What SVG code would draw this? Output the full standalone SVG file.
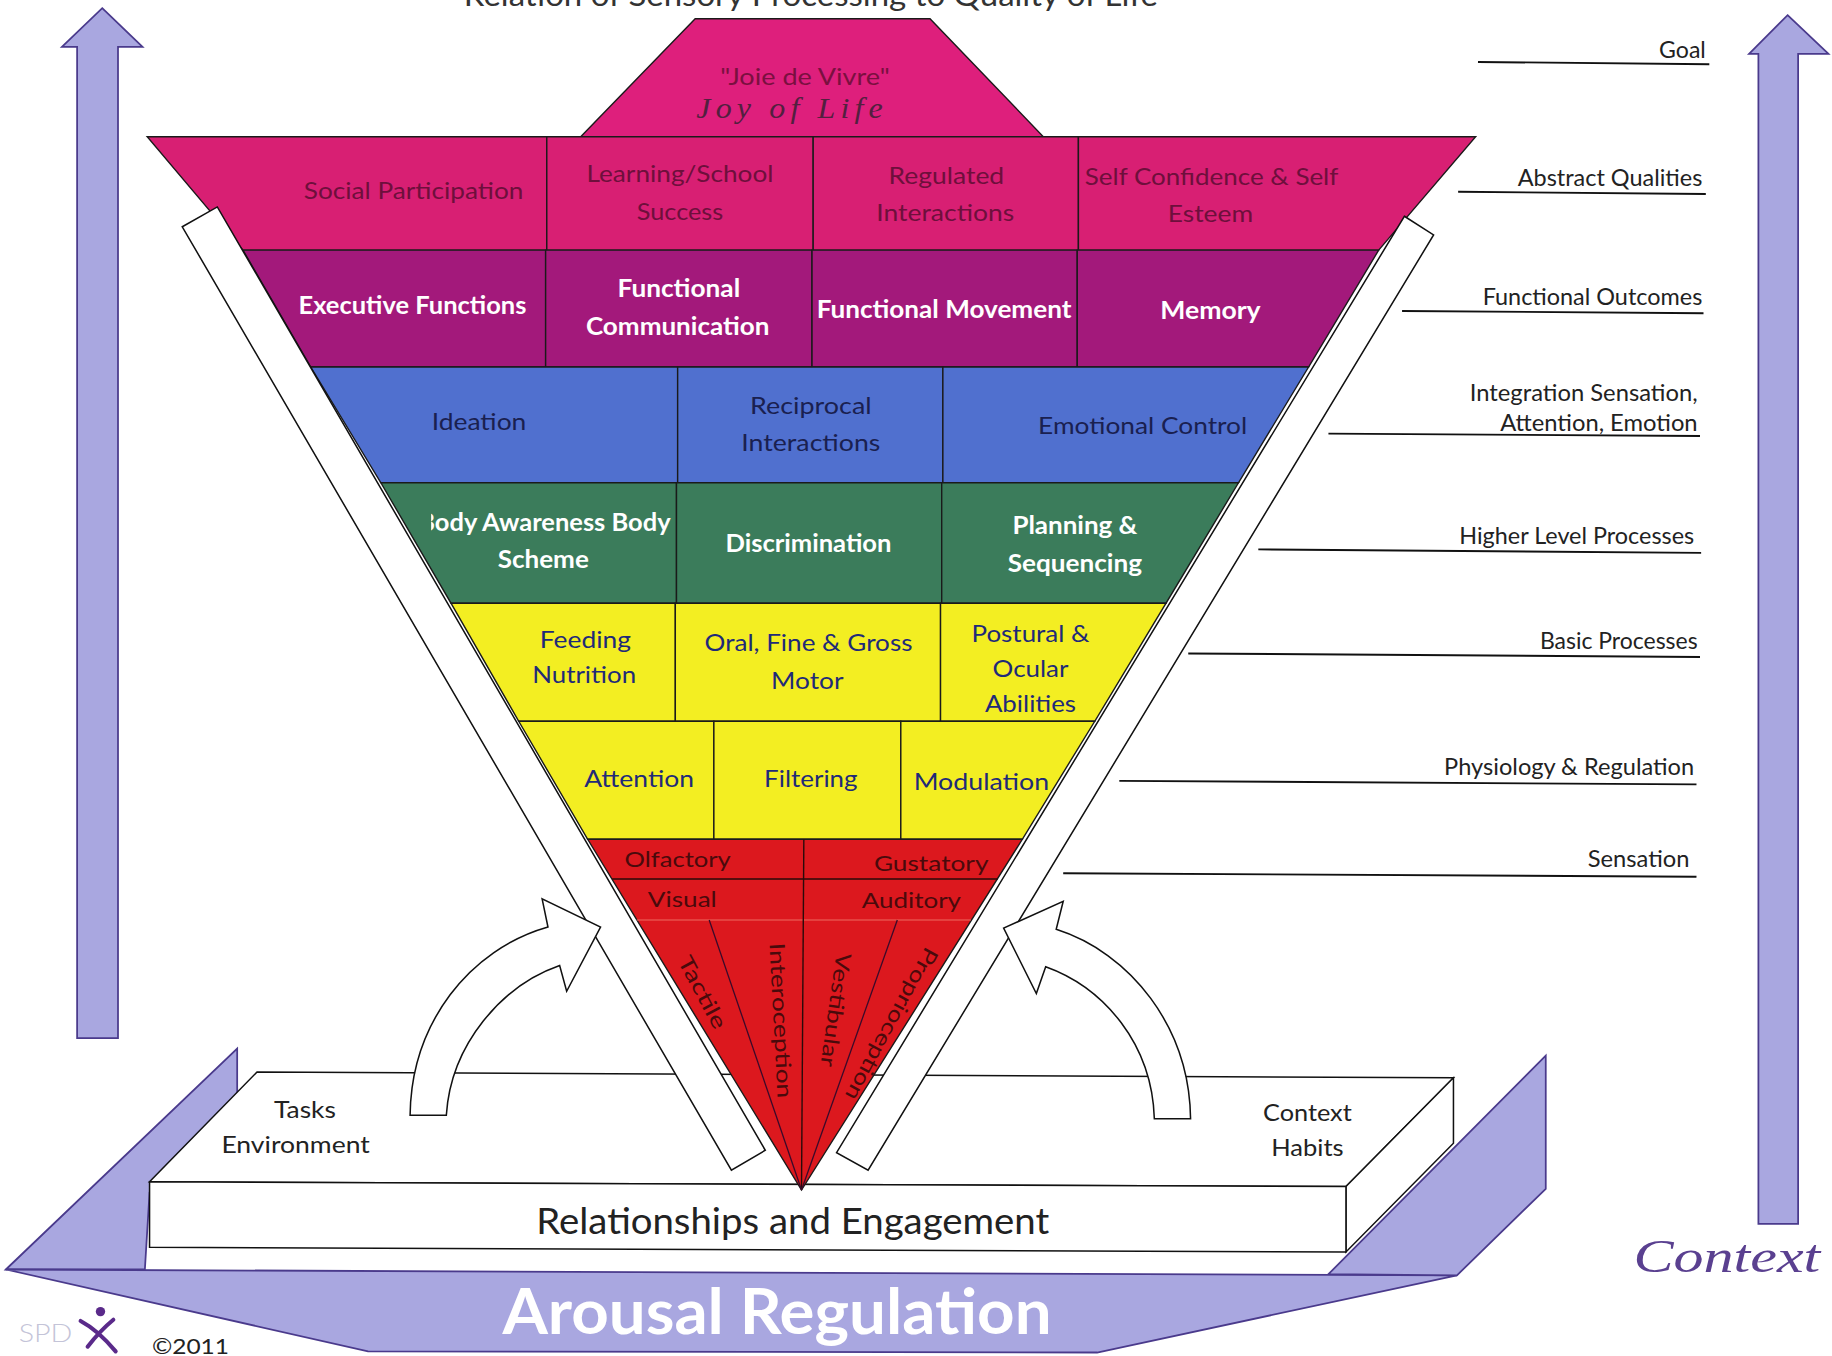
<svg xmlns="http://www.w3.org/2000/svg" width="1832" height="1356" viewBox="0 0 1832 1356">
<defs>
<style>
.f{font-family:Lato,"Open Sans","Liberation Sans",sans-serif}
.m{text-anchor:middle}
.e{text-anchor:end}
.r1{font-size:20px;fill:#6e0f3c}
.bw{font-size:21px;font-weight:bold;fill:#ffffff}
.dk{font-size:20px;fill:#1a2050}
.ny{font-size:20px;fill:#1f2a78}
.rd{font-size:18px;fill:#4a0a0c}
.lb{font-size:19px;fill:#222222}
.pk{fill:#d81f73}
.mg{fill:#a3197b}
.bl{fill:#5070cf}
.gr{fill:#3b7c5b}
.ye{fill:#f3ee22}
.re{fill:#dc181e}
.cell{stroke:#1a1a1a;stroke-width:1.2}
.ln{stroke:#111111;stroke-width:1.6;fill:none}
.lav{fill:#a9a7e0;stroke:#4a3a8c;stroke-width:1.5}
.wh{fill:#ffffff;stroke:#111111;stroke-width:1.3}
</style>
<clipPath id="clipBody"><rect x="369" y="413" width="212" height="103"/></clipPath>
</defs>
<rect width="1832" height="1356" fill="#ffffff"/>
<g transform="scale(1.16837 1.16897)">

<g id="title"><text class="f m" x="694" y="5" font-size="26" fill="#333333" textLength="594" lengthAdjust="spacingAndGlyphs">Relation of Sensory Processing to Quality of Life</text></g>

<g id="arrow-left-development"><polygon class="lav" points="87.5,7 122,40 101,40 101,888 66,888 66,40 53,40"/></g>
<g id="arrow-right-context"><polygon class="lav" points="1530,13 1565,46 1539,46 1539,1047 1505,1047 1505,46 1497,46"/>
<text x="1398" y="1088" font-family="'Liberation Serif',serif" font-style="italic" font-size="40" fill="#5a4090" textLength="160" lengthAdjust="spacingAndGlyphs">Context</text></g>

<g id="arousal-regulation">
<polygon class="lav" points="5,1086 203,897 203,945 128,1020 124,1086"/>
<polygon class="lav" points="5,1086 1247,1091 939,1157 315,1156"/>
<text class="f" x="430" y="1141" font-size="54" font-weight="bold" fill="#ffffff" textLength="470" lengthAdjust="spacingAndGlyphs">Arousal Regulation</text>
</g>

<g id="platform">
<polygon class="wh" points="128,1011 220,917 1244,922 1152,1015"/>
<polygon class="wh" points="1152,1015 1244,922 1244,978 1152,1071"/>
<polygon class="wh" points="128,1011 1152,1015 1152,1071 128,1067"/>
<text class="f m lb" x="261" y="956" font-size="21" textLength="53" lengthAdjust="spacingAndGlyphs">Tasks</text>
<text class="f m lb" x="253" y="986" font-size="21" textLength="127" lengthAdjust="spacingAndGlyphs">Environment</text>
<text class="f m lb" x="1119" y="959" font-size="21" textLength="76" lengthAdjust="spacingAndGlyphs">Context</text>
<text class="f m lb" x="1119" y="989" font-size="21" textLength="62" lengthAdjust="spacingAndGlyphs">Habits</text>
<text class="f" x="459" y="1056" font-size="31" fill="#222222" textLength="439" lengthAdjust="spacingAndGlyphs">Relationships and Engagement</text>
</g>
<g id="arousal-right-flap"><polygon class="lav" points="1137,1090 1323,903 1323,1017 1247,1091"/></g>

<g id="joie-de-vivre">
<polygon class="cell" fill="#de1f7c" points="497,117 595,16 796,16 893,117"/>
<text class="f m" x="689" y="73" font-size="20" fill="#7a1040" textLength="145" lengthAdjust="spacingAndGlyphs">"Joie de Vivre"</text>
<text x="678" y="101" text-anchor="middle" font-family="'Liberation Serif',serif" font-style="italic" font-size="25" fill="#52203f" letter-spacing="4" textLength="164" lengthAdjust="spacingAndGlyphs">Joy of Life</text>
</g>

<g id="social-participation"><polygon class="pk cell" points="126,117 468,117 468,214 208,214"/>
<text class="f m r1" x="354" y="170" textLength="188" lengthAdjust="spacingAndGlyphs">Social Participation</text></g>
<g id="learning-school"><polygon class="pk cell" points="468,117 696,117 696,214 468,214"/>
<text class="f m r1" x="582" y="156" textLength="160" lengthAdjust="spacingAndGlyphs">Learning/School</text>
<text class="f m r1" x="582" y="188" textLength="74" lengthAdjust="spacingAndGlyphs">Success</text></g>
<g id="regulated-interactions"><polygon class="pk cell" points="696,117 923,117 923,214 696,214"/>
<text class="f m r1" x="810" y="157" textLength="99" lengthAdjust="spacingAndGlyphs">Regulated</text>
<text class="f m r1" x="809" y="189" textLength="118" lengthAdjust="spacingAndGlyphs">Interactions</text></g>
<g id="self-confidence"><polygon class="pk cell" points="923,117 1263,117 1180,214 923,214"/>
<text class="f m r1" x="1037" y="158" textLength="217" lengthAdjust="spacingAndGlyphs">Self Confidence &amp; Self</text>
<text class="f m r1" x="1036" y="190" textLength="73" lengthAdjust="spacingAndGlyphs">Esteem</text></g>

<g id="executive-functions"><polygon class="mg cell" points="208,214 467,214 467,314 266,314"/>
<text class="f m bw" x="353" y="269" textLength="195" lengthAdjust="spacingAndGlyphs">Executive Functions</text></g>
<g id="functional-communication"><polygon class="mg cell" points="467,214 695,214 695,314 467,314"/>
<text class="f m bw" x="581" y="254" textLength="105" lengthAdjust="spacingAndGlyphs">Functional</text>
<text class="f m bw" x="580" y="287" textLength="157" lengthAdjust="spacingAndGlyphs">Communication</text></g>
<g id="functional-movement"><polygon class="mg cell" points="695,214 922,214 922,314 695,314"/>
<text class="f m bw" x="808" y="272" textLength="218" lengthAdjust="spacingAndGlyphs">Functional Movement</text></g>
<g id="memory"><polygon class="mg cell" points="922,214 1180,214 1120,314 922,314"/>
<text class="f m bw" x="1036" y="273" textLength="86" lengthAdjust="spacingAndGlyphs">Memory</text></g>

<g id="ideation"><polygon class="bl cell" points="266,314 580,314 580,413 326,413"/>
<text class="f m dk" x="410" y="368" textLength="81" lengthAdjust="spacingAndGlyphs">Ideation</text></g>
<g id="reciprocal-interactions"><polygon class="bl cell" points="580,314 807,314 807,413 580,413"/>
<text class="f m dk" x="694" y="354" textLength="104" lengthAdjust="spacingAndGlyphs">Reciprocal</text>
<text class="f m dk" x="694" y="386" textLength="119" lengthAdjust="spacingAndGlyphs">Interactions</text></g>
<g id="emotional-control"><polygon class="bl cell" points="807,314 1120,314 1060,413 807,413"/>
<text class="f m dk" x="978" y="371" textLength="179" lengthAdjust="spacingAndGlyphs">Emotional Control</text></g>

<g id="body-awareness"><polygon class="gr cell" points="326,413 579,413 579,516 386,516"/>
<text class="f m bw" x="466" y="454" textLength="216" lengthAdjust="spacingAndGlyphs" clip-path="url(#clipBody)">Body Awareness Body</text>
<text class="f m bw" x="465" y="486" textLength="78" lengthAdjust="spacingAndGlyphs">Scheme</text></g>
<g id="discrimination"><polygon class="gr cell" points="579,413 806,413 806,516 579,516"/>
<text class="f m bw" x="692" y="472" textLength="142" lengthAdjust="spacingAndGlyphs">Discrimination</text></g>
<g id="planning-sequencing"><polygon class="gr cell" points="806,413 1060,413 998,516 806,516"/>
<text class="f m bw" x="920" y="457" textLength="107" lengthAdjust="spacingAndGlyphs">Planning &amp;</text>
<text class="f m bw" x="920" y="489" textLength="115" lengthAdjust="spacingAndGlyphs">Sequencing</text></g>

<g id="feeding-nutrition"><polygon class="ye cell" points="386,516 578,516 578,617 444,617"/>
<text class="f m ny" x="501" y="554" textLength="78" lengthAdjust="spacingAndGlyphs">Feeding</text>
<text class="f m ny" x="500" y="584" textLength="89" lengthAdjust="spacingAndGlyphs">Nutrition</text></g>
<g id="oral-fine-gross-motor"><polygon class="ye cell" points="578,516 805,516 805,617 578,617"/>
<text class="f m ny" x="692" y="557" textLength="178" lengthAdjust="spacingAndGlyphs">Oral, Fine &amp; Gross</text>
<text class="f m ny" x="691" y="589" textLength="62" lengthAdjust="spacingAndGlyphs">Motor</text></g>
<g id="postural-ocular"><polygon class="ye cell" points="805,516 998,516 937,617 805,617"/>
<text class="f m ny" x="882" y="549" textLength="101" lengthAdjust="spacingAndGlyphs">Postural &amp;</text>
<text class="f m ny" x="882" y="579" textLength="65" lengthAdjust="spacingAndGlyphs">Ocular</text>
<text class="f m ny" x="882" y="609" textLength="78" lengthAdjust="spacingAndGlyphs">Abilities</text></g>

<g id="attention"><polygon class="ye cell" points="444,617 611,617 611,718 503,718"/>
<text class="f m ny" x="547" y="673" textLength="94" lengthAdjust="spacingAndGlyphs">Attention</text></g>
<g id="filtering"><polygon class="ye cell" points="611,617 771,617 771,718 611,718"/>
<text class="f m ny" x="694" y="673" textLength="80" lengthAdjust="spacingAndGlyphs">Filtering</text></g>
<g id="modulation"><polygon class="ye cell" points="771,617 937,617 875,718 771,718"/>
<text class="f m ny" x="840" y="676" textLength="116" lengthAdjust="spacingAndGlyphs">Modulation</text></g>

<g id="sensation-cone">
<polygon class="re" stroke="#1a1a1a" stroke-width="1.2" points="503,718 875,718 686,1018"/>
<line x1="524" y1="752" x2="854" y2="752" stroke="#2a0a0a" stroke-width="1.3"/>
<line x1="545" y1="787" x2="831" y2="787" stroke="#ee6a60" stroke-width="1"/>
<line x1="688" y1="718" x2="686" y2="1018" stroke="#2a0a0a" stroke-width="1.2"/>
<line x1="607" y1="787" x2="686" y2="1018" stroke="#3a0a2a" stroke-width="1.1"/>
<line x1="768" y1="787" x2="686" y2="1018" stroke="#3a0a2a" stroke-width="1.1"/>
</g>
<g id="olfactory"><text class="f m rd" x="580" y="742" textLength="91" lengthAdjust="spacingAndGlyphs">Olfactory</text></g>
<g id="gustatory"><text class="f m rd" x="797" y="745" textLength="98" lengthAdjust="spacingAndGlyphs">Gustatory</text></g>
<g id="visual"><text class="f m rd" x="584" y="776" textLength="59" lengthAdjust="spacingAndGlyphs">Visual</text></g>
<g id="auditory"><text class="f m rd" x="780" y="777" textLength="85" lengthAdjust="spacingAndGlyphs">Auditory</text></g>
<g id="tactile"><text class="f m rd" transform="translate(601,849) rotate(62)" x="0" y="6" textLength="68" lengthAdjust="spacingAndGlyphs">Tactile</text></g>
<g id="interoception"><text class="f m rd" transform="translate(668,873) rotate(87)" x="0" y="6" textLength="133" lengthAdjust="spacingAndGlyphs">Interoception</text></g>
<g id="vestibular"><text class="f m rd" transform="translate(715,864) rotate(98)" x="0" y="6" textLength="98" lengthAdjust="spacingAndGlyphs">Vestibular</text></g>
<g id="proprioception"><text class="f m rd" transform="translate(763,876) rotate(118.5)" x="0" y="6" textLength="146" lengthAdjust="spacingAndGlyphs">Proprioception</text></g>

<g id="connectors">
<polygon class="wh" points="156,194 186,177 655,984 626,1001"/>
<polygon class="wh" points="1202,185 1227,201 743,1001 716,986"/>
<path class="wh" d="M351,954 C352,875 402,812 469,793 L464,769 L514,793 L485,848 L479,826 C430,843 386,893 382,954 Z"/>
<path class="wh" d="M1019,957 C1018,878 967,815 904,795 L910,771 L859,794 L887,850 L895,827 C945,845 986,893 988,957 Z"/>
<line class="ln" x1="1265" y1="53" x2="1463" y2="55"/>
<line class="ln" x1="1248" y1="164" x2="1460" y2="166"/>
<line class="ln" x1="1200" y1="266" x2="1458" y2="268"/>
<line class="ln" x1="1137" y1="371" x2="1455" y2="373"/>
<line class="ln" x1="1077" y1="470" x2="1456" y2="473"/>
<line class="ln" x1="1017" y1="559" x2="1455" y2="562"/>
<line class="ln" x1="958" y1="668" x2="1452" y2="671"/>
<line class="ln" x1="910" y1="747" x2="1452" y2="750"/>
</g>

<g id="level-labels">
<text class="f e lb" x="1460" y="50" textLength="40" lengthAdjust="spacingAndGlyphs">Goal</text>
<text class="f e lb" x="1457" y="159" textLength="158" lengthAdjust="spacingAndGlyphs">Abstract Qualities</text>
<text class="f e lb" x="1457" y="261" textLength="188" lengthAdjust="spacingAndGlyphs">Functional Outcomes</text>
<text class="f e lb" x="1453" y="343" textLength="195" lengthAdjust="spacingAndGlyphs">Integration Sensation,</text>
<text class="f e lb" x="1453" y="369" textLength="169" lengthAdjust="spacingAndGlyphs">Attention, Emotion</text>
<text class="f e lb" x="1450" y="465" textLength="201" lengthAdjust="spacingAndGlyphs">Higher Level Processes</text>
<text class="f e lb" x="1453" y="555" textLength="135" lengthAdjust="spacingAndGlyphs">Basic Processes</text>
<text class="f e lb" x="1450" y="663" textLength="214" lengthAdjust="spacingAndGlyphs">Physiology &amp; Regulation</text>
<text class="f e lb" x="1446" y="742" textLength="87" lengthAdjust="spacingAndGlyphs">Sensation</text>
</g>

<g id="logo">
<text class="f" x="16" y="1148" font-size="22" font-weight="300" fill="#c4c4d8" textLength="46" lengthAdjust="spacingAndGlyphs">SPD</text>
<circle cx="86" cy="1122" r="4" fill="#5a2a8a"/>
<path d="M69,1130 Q84,1138 99,1156 M97,1129 Q86,1138 75,1152" stroke="#5a2a8a" stroke-width="3.5" fill="none" stroke-linecap="round"/>
<text class="f" x="130" y="1158" font-size="18" fill="#222222" textLength="66" lengthAdjust="spacingAndGlyphs">©2011</text>
</g>

</g>
</svg>
